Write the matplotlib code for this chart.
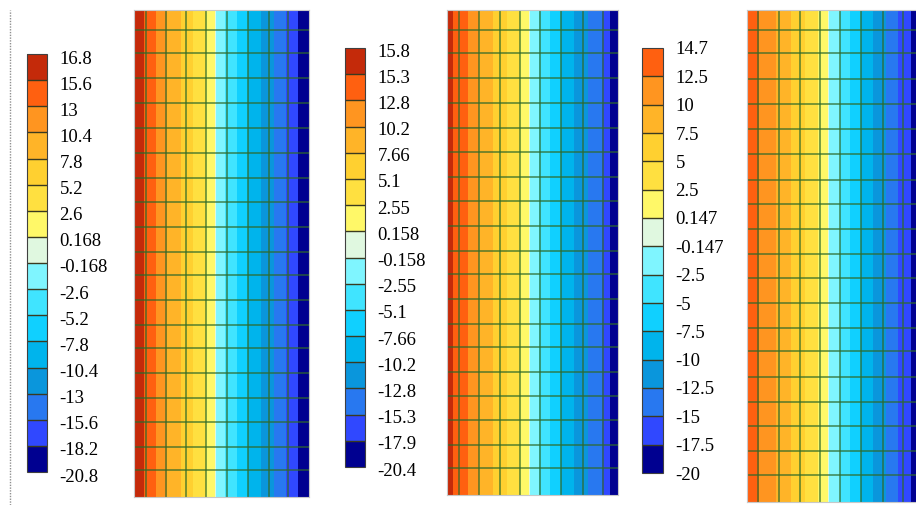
import numpy as np
import matplotlib
matplotlib.use("Agg")
import matplotlib.pyplot as plt
from matplotlib.colors import ListedColormap, BoundaryNorm
from matplotlib.cm import ScalarMappable
from matplotlib.lines import Line2D
from matplotlib.transforms import ScaledTranslation

plt.rcParams['font.family'] = ['Liberation Serif', 'DejaVu Serif']

# band colours, top (hot) to bottom (cold)
band_colors = ['#c42a0a', '#ff6010', '#ff9520', '#ffb428', '#ffd030', '#ffe040',
               '#fff868', '#e0f8e0', '#7ff5ff', '#40e4ff', '#10d0ff', '#00b4ec',
               '#0a96dc', '#2878f0', '#3048ff', '#000090']

# colorbar tick labels, top to bottom
labels_1 = ['16.8', '15.6', '13', '10.4', '7.8', '5.2', '2.6', '0.168', '-0.168',
            '-2.6', '-5.2', '-7.8', '-10.4', '-13', '-15.6', '-18.2', '-20.8']
labels_2 = ['15.8', '15.3', '12.8', '10.2', '7.66', '5.1', '2.55', '0.158', '-0.158',
            '-2.55', '-5.1', '-7.66', '-10.2', '-12.8', '-15.3', '-17.9', '-20.4']
labels_3 = ['14.7', '12.5', '10', '7.5', '5', '2.5', '0.147', '-0.147', '-2.5',
            '-5', '-7.5', '-10', '-12.5', '-15', '-17.5', '-20']

# mesh columns (node positions across each strip) and nodal values
cols_1 = [0, 12, 32, 52, 72, 93, 114, 135, 154, 175]
vals_1 = [16.8, 15.4, 10.6, 6.8, 2.5, -3.0, -7.8, -12.0, -16.0, -20.8]
cols_2 = [0, 12, 32, 53, 73, 93, 114, 136, 156, 171]
vals_2 = [15.8, 14.8, 10.2, 6.5, 2.6, -2.8, -7.6, -12.0, -15.5, -20.4]
cols_3 = [0, 11, 32, 53, 73, 93, 114, 136, 156, 176]
vals_3 = [14.7, 12.6, 9.5, 6.0, 2.0, -2.6, -7.5, -12.0, -16.0, -20.0]

# mesh rows (node positions down each strip)
rows = [0, 20, 43, 68, 93, 118, 143, 168, 192, 217, 242, 265, 290, 315, 338,
        363, 388, 412, 437, 460, 487]

W, H = 916, 505
fig = plt.figure(figsize=(W / 100, H / 100), dpi=100)


def px_axes(x0, y0, x1, y1):
    return fig.add_axes([x0 / W, 1 - y1 / H, (x1 - x0) / W, (y1 - y0) / H])


def make_cmap(labels):
    bounds = [float(s) for s in labels][::-1]
    colors = band_colors[-(len(bounds) - 1):][::-1]
    cmap = ListedColormap(colors)
    cmap.set_under(colors[0])
    cmap.set_over(colors[-1])
    norm = BoundaryNorm(bounds, cmap.N)
    return bounds, cmap, norm


def draw_strip(box, cols, vals, labels):
    bounds, cmap, norm = make_cmap(labels)
    ax = px_axes(*box)
    X, Y = np.meshgrid(cols, rows)
    Z = np.tile(vals, (len(rows), 1))
    ax.contourf(X, Y, Z, levels=bounds, cmap=cmap, norm=norm, extend='both')
    ax.vlines(cols[1:-1], rows[0], rows[-1], color='#2f6a2a', alpha=0.75, lw=1.2)
    ax.hlines(rows[1:-1], cols[0], cols[-1], color='#2f6a2a', alpha=0.75, lw=1.2)
    ax.set_xlim(cols[0], cols[-1])
    ax.set_ylim(rows[-1], rows[0])
    ax.set_xticks([])
    ax.set_yticks([])
    for sp in ax.spines.values():
        sp.set_color('#c8c8c8')
        sp.set_linewidth(0.8)


def draw_bar(box, labels, shift=2):
    bounds, cmap, norm = make_cmap(labels)
    cax = px_axes(*box)
    cb = fig.colorbar(ScalarMappable(norm=norm, cmap=cmap), cax=cax,
                      boundaries=bounds, spacing='uniform', ticks=bounds,
                      drawedges=True)
    cb.ax.set_yticklabels(labels[::-1])
    cb.ax.tick_params(length=0, pad=9, labelsize=13.5)
    off = ScaledTranslation(0, -shift / 100, fig.dpi_scale_trans)
    for t in cb.ax.get_yticklabels():
        t.set_transform(t.get_transform() + off)
    cb.outline.set_edgecolor('#404040')
    cb.outline.set_linewidth(0.8)
    cb.dividers.set_color('#3a3a20')
    cb.dividers.set_linewidth(1.0)


draw_bar((27, 54, 47, 472), labels_1, shift=3)
draw_strip((134, 10, 309, 497), cols_1, vals_1, labels_1)

draw_bar((345, 48, 365, 467), labels_2, shift=2)
draw_strip((447, 10, 618, 495), cols_2, vals_2, labels_2)

draw_bar((642, 48, 663, 473), labels_3, shift=0)
draw_strip((747, 10, 923, 502), cols_3, vals_3, labels_3)

# dotted separator at the left edge
fig.add_artist(Line2D([9.5 / W, 9.5 / W], [0, 1 - 10 / H], transform=fig.transFigure,
                      color='#909090', lw=1.0, ls=(0, (1, 1))))

fig.savefig('out.png', dpi=100)
